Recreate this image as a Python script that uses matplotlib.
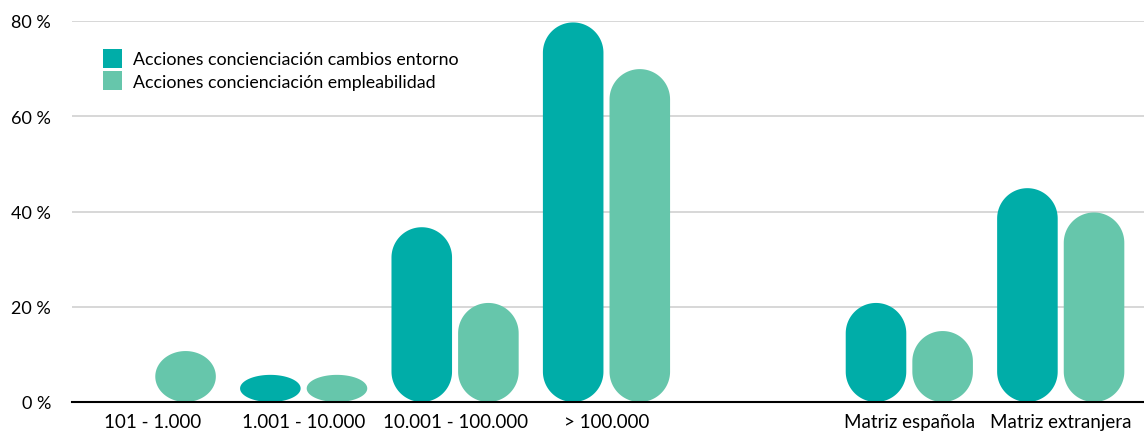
import numpy as np
import matplotlib
matplotlib.use("Agg")
from matplotlib import pyplot
from matplotlib.patches import Polygon, Patch

categories = ["101 - 1.000", "1.001 - 10.000", "10.001 - 100.000", "> 100.000", "",
              "Matriz española", "Matriz extranjera"]
entorno = [0, 5.7, 36.7, 79.7, np.nan, 20.8, 44.9]
empleabilidad = [10.7, 5.7, 20.8, 69.9, np.nan, 14.9, 39.8]
series_names = ["Acciones concienciación cambios entorno", "Acciones concienciación empleabilidad"]
yticks = [0, 20, 40, 60, 80]

dark = "#00ada8"
light = "#66c6ab"

pyplot.rcParams["font.family"] = ["Lato", "DejaVu Sans"]

fig = pyplot.figure(figsize=(11.44, 4.39), dpi=100)
ax = fig.add_axes([72 / 1144, 36 / 439, 1072 / 1144, 381 / 439])
ax.set_xlim(-0.53, 6.55)
ax.set_ylim(0, 80)

# pixel size of one data unit, used to keep the bar ends round
p0 = ax.transData.transform((0, 0))
p1 = ax.transData.transform((1, 1))
sx, sy = p1[0] - p0[0], p1[1] - p0[1]


def pill(cx, w, h, color):
    if not np.isfinite(h) or h <= 0:
        return
    rx = w / 2
    ry = min(rx * sx / sy, h / 2)
    t1 = np.linspace(0, np.pi, 60)
    t2 = np.linspace(np.pi, 2 * np.pi, 60)
    top = np.column_stack([cx + rx * np.cos(t1), h - ry + ry * np.sin(t1)])
    bot = np.column_stack([cx + rx * np.cos(t2), ry + ry * np.sin(t2)])
    ax.add_patch(Polygon(np.vstack([top, bot]), closed=True, facecolor=color,
                         edgecolor="none", zorder=3))


width = 0.40
offset = 0.22
x = np.arange(len(categories))
for i in range(len(categories)):
    pill(x[i] - offset, width, entorno[i], dark)
    pill(x[i] + offset, width, empleabilidad[i], light)

ax.set_yticks(yticks)
ax.set_yticklabels([f"{v} %" for v in yticks])
ax.set_xticks(x)
ax.set_xticklabels(categories)
ax.tick_params(axis="both", length=0, labelsize=13.5, colors="black")
ax.tick_params(axis="y", labelsize=13, pad=15)
ax.tick_params(axis="x", pad=8)
for lab in ax.get_yticklabels():
    lab.set_horizontalalignment("right")

ax.grid(axis="y", color="#d4d4d4", linewidth=1.3, zorder=0)
ax.set_axisbelow(True)
for s in ["top", "right", "left"]:
    ax.spines[s].set_visible(False)
ax.spines["bottom"].set_color("black")
ax.spines["bottom"].set_linewidth(1.5)
ax.spines["bottom"].set_zorder(4)

handles = [Patch(facecolor=dark, edgecolor="none"), Patch(facecolor=light, edgecolor="none")]
ax.legend(handles, series_names, loc="upper left", bbox_to_anchor=(0.022, 0.945),
          frameon=False, fontsize=12.8, handlelength=1.1, handleheight=1.25,
          handletextpad=0.6, labelspacing=0.2, borderaxespad=0)

fig.savefig("out.png", dpi=100)
